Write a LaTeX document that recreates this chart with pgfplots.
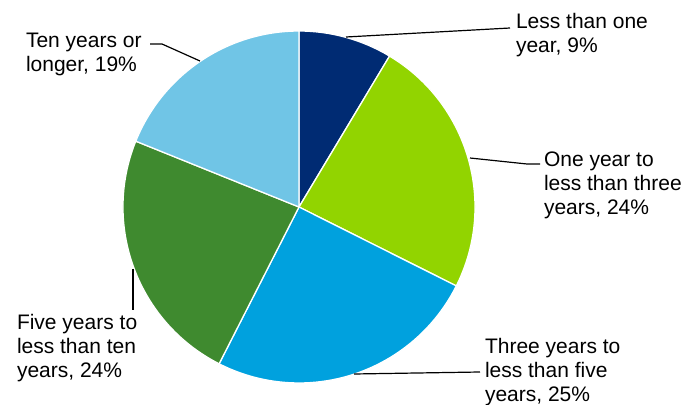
\documentclass[border=0pt]{standalone}
\usepackage{pgfplots}
\pgfplotsset{compat=1.18}
\usepackage{fontspec}
\setmainfont{Liberation Sans}
\definecolor{cNavy}{HTML}{002B73}
\definecolor{cLime}{HTML}{92D400}
\definecolor{cBlue}{HTML}{00A1DE}
\definecolor{cGreen}{HTML}{3F8A2F}
\definecolor{cLight}{HTML}{70C5E6}
\tikzset{lbl/.style={font=\fontsize{21bp}{24bp}\selectfont, anchor=base west, inner sep=0pt, outer sep=0pt, text=black}}
% pie slice: #1 = cumulative share before the slice (%), #2 = share (%), #3 = colour
\newcommand\pieslice[3]{%
  \fill[#3, draw=white, line width=1.3bp] (axis cs:299,198) --
    ([shift={({90-3.6*(#1)}:176bp)}]axis cs:299,198)
    arc[start angle={90-3.6*(#1)}, delta angle={-3.6*(#2)}, radius=176bp] -- cycle;}
\begin{document}
\begin{tikzpicture}
\useasboundingbox (0,0) rectangle (685bp,405bp);
\begin{axis}[x=1bp, y=1bp, xmin=0, xmax=685, ymin=0, ymax=405,
  hide axis, clip=false, anchor=south west, at={(0,0)}]
% shares (%): 8.6, 23.8, 25.1, 23.6, 18.9
\pieslice{0}{8.6}{cNavy}
\pieslice{8.6}{23.8}{cLime}
\pieslice{32.4}{25.1}{cBlue}
\pieslice{57.5}{23.6}{cGreen}
\pieslice{81.1}{18.9}{cLight}
% leader lines
\addplot[black, line width=1.2bp, mark=none] coordinates {(346,368) (510,377)};
\addplot[black, line width=1.2bp, mark=none] coordinates {(470,247) (527,241) (540,241)};
\addplot[black, line width=1.2bp, mark=none] coordinates {(354,31) (480,33)};
\addplot[black, line width=1.2bp, mark=none] coordinates {(133,136) (133,95)};
\addplot[black, line width=1.2bp, mark=none] coordinates {(200,344) (162,361) (150,361)};
% labels
\node[lbl] at (axis cs:516,377) {Less than one};
\node[lbl] at (axis cs:516,353) {year, 9\%};
\node[lbl] at (axis cs:544,239) {One year to};
\node[lbl] at (axis cs:544,215) {less than three};
\node[lbl] at (axis cs:544,191) {years, 24\%};
\node[lbl] at (axis cs:485,52) {Three years to};
\node[lbl] at (axis cs:485,28) {less than five};
\node[lbl] at (axis cs:485,4) {years, 25\%};
\node[lbl] at (axis cs:17,76) {Five years to};
\node[lbl] at (axis cs:17,52) {less than ten};
\node[lbl] at (axis cs:17,28) {years, 24\%};
\node[lbl] at (axis cs:26,358) {Ten years or};
\node[lbl] at (axis cs:26,334) {longer, 19\%};
\end{axis}
\end{tikzpicture}
\end{document}
